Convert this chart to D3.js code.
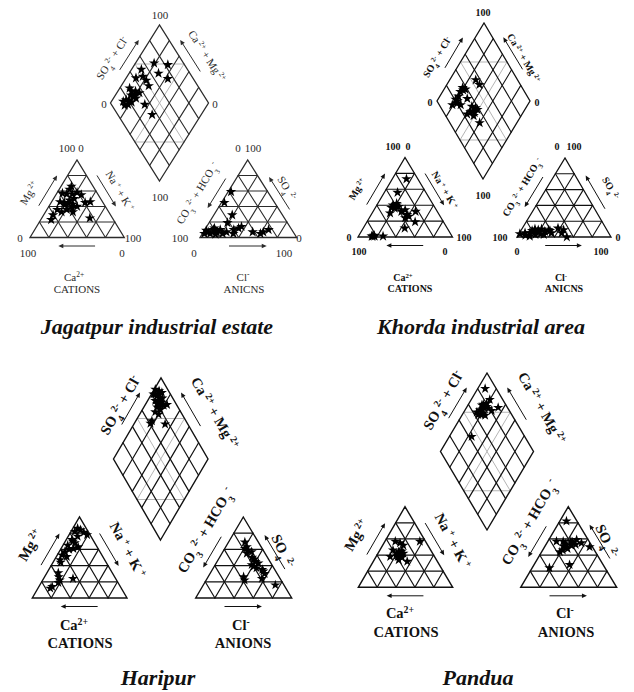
<!DOCTYPE html>
<html>
<head>
<meta charset="utf-8">
<script src="https://cdn.jsdelivr.net/npm/d3@7"></script>
<style>
  body { margin: 0; background: #fff; }
  svg { display: block; }
</style>
</head>
<body>
<svg id="fig" width="634" height="692"></svg>
<script>
// ---- Sample compositions (meq %) ----
// cation triangle: [Mg2+ %, Na+ + K+ %]   (Ca2+ is the remainder)
// anion triangle:  [SO4 2- %, Cl- %]      (CO3 + HCO3 is the remainder)
// diamond:         [SO4 + Cl %, Ca + Mg %]
const jagatpurCations = [[66,11],[62,11],[57,6],[56,11],[56,17],[58,21],[55,27],[46,9],[45,14],[44,19],[43,24],[40,30],[45,36],[46,41],[36,11],[33,17],[36,21],[33,29],[29,10],[23,11],[25,51],[48,18],[50,22],[42,16],[38,26]];
const jagatpurAnions = [[59,3],[45,3],[29,19],[19,19],[9,2],[7,5],[10,9],[7,14],[10,16],[5,2],[5,8],[5,21],[7,24],[10,30],[12,34],[14,36],[7,51],[7,62],[10,66],[5,60],[5,32],[12,9],[8,12],[4,14]];
const jagatpurDiamond = [[83,66],[70,81],[68,70],[74,57],[53,90],[42,90],[51,78],[50,84],[50,72],[29,90],[29,86],[30,80],[18,86],[14,88],[22,79],[29,77],[17,81],[13,84],[34,64],[35,50],[36,77],[27,81],[26,84],[20,83],[33,82]];

const khordaCations = [[73,15],[56,14],[40,17],[42,20],[37,17],[36,21],[38,24],[28,38],[24,38],[26,41],[32,45],[19,51],[11,44],[30,19],[1,17],[1,14],[1,26],[32,30],[1,15],[2,16],[34,33],[40,21]];
const khordaAnions = [[4,1],[5,6],[5,11],[7,16],[9,18],[10,21],[7,26],[9,29],[3,27],[3,18],[1,13],[5,34],[5,45],[0,53],[11,38],[9,45],[8,12],[6,20],[4,23],[8,31],[10,14],[2,8]];
const khordaDiamond = [[55,72],[56,65],[36,81],[38,77],[31,81],[26,80],[21,81],[20,77],[14,81],[23,72],[34,69],[34,59],[37,54],[29,57],[33,52],[38,51],[30,51],[24,59],[32,40],[35,79],[22,78],[32,55]];

const haripurCations = [[82,4],[84,9],[78,19],[81,14],[72,6],[68,11],[65,5],[63,17],[61,13],[57,6],[53,5],[51,11],[47,6],[31,12],[22,18],[19,18],[24,31],[12,13],[14,14],[76,10],[70,8],[60,9],[44,8],[26,15],[86,5]];
const haripurAnions = [[69,17],[61,21],[59,25],[55,26],[57,30],[45,40],[43,44],[41,38],[37,45],[35,52],[30,57],[26,37],[22,40],[24,57],[16,75],[63,22],[50,34],[39,41],[33,54],[48,37]];
const haripurDiamond = [[87,99],[90,94],[85,93],[87,88],[80,92],[86,84],[82,86],[86,80],[90,77],[80,81],[73,85],[75,80],[64,83],[61,83],[76,67],[82,98],[88,92],[84,96],[83,89],[78,86],[85,82],[80,88],[89,86],[92,90]];

const panduaCations = [[57,11],[55,17],[52,22],[57,37],[46,14],[44,21],[40,21],[40,24],[42,27],[37,28],[38,15],[32,36],[34,26],[41,25],[43,23],[39,26],[45,24],[42,20],[38,23]];
const panduaAnions = [[82,7],[57,9],[57,16],[57,24],[59,29],[55,36],[50,23],[46,21],[44,19],[52,27],[50,47],[24,18],[28,37],[54,20],[48,25],[53,31],[56,26],[51,19]];
const panduaDiamond = [[88,92],[86,80],[80,81],[74,85],[69,84],[70,78],[64,83],[79,76],[81,71],[90,66],[64,86],[43,76],[71,75],[75,80],[72,82],[78,79],[67,80],[76,84]];

// ---- Text ----
const siteNames = ["Jagatpur industrial estate", "Khorda industrial area", "Haripur", "Pandua"];
const scaleEnds = ["0", "100"];
const gridSteps = [20, 40, 60, 80];
const LBL = {
  so4cl: [["SO","n"],["4","sub"],["2-","sup"],[" + Cl","n"],["-","sup"]],
  camg:  [["Ca","n"],[" 2+","sup"],[" + Mg","n"],[" 2+","sup"]],
  mg:    [["Mg","n"],[" 2+","sup"]],
  nak:   [["Na","n"],[" +","sup"],[" + K","n"],[" +","sup"]],
  co3:   [["CO","n"],["3","sub"],[" 2-","sup"],[" + HCO","n"],["3","sub"],[" -","sup"]],
  so4:   [["SO","n"],["4","sub"],[" 2-","sup"]],
  ca:    [["Ca","n"],["2+","sup"]],
  cl:    [["Cl","n"],["-","sup"]]
};

const FONT = "'Liberation Serif','Times New Roman',serif";
const svg = d3.select("#fig");
const pct = d3.scaleLinear().domain([0, 100]).range([0, 1]);

// ternary projector: (top %, right %) -> pixel
function triProj(g) {
  return (top, right) => {
    const t = pct(top), r = pct(right);
    return [g.bl[0] + r * (g.br[0] - g.bl[0]) + t * (g.ap[0] - g.bl[0]),
            g.bl[1] + r * (g.br[1] - g.bl[1]) + t * (g.ap[1] - g.bl[1])];
  };
}
// diamond projector: (SO4+Cl %, Ca+Mg %) -> pixel
function diaProj(g) {
  return (a, b) => {
    const u = pct(a), v = pct(b);
    return [g.b[0] + u * (g.r[0] - g.b[0]) + v * (g.l[0] - g.b[0]),
            g.b[1] + u * (g.r[1] - g.b[1]) + v * (g.l[1] - g.b[1])];
  };
}

function edgePt(P, Q, f, off, c) {
  const x = P[0] + f * (Q[0] - P[0]), y = P[1] + f * (Q[1] - P[1]);
  let nx = -(Q[1] - P[1]), ny = Q[0] - P[0];
  const L = Math.hypot(nx, ny); nx /= L; ny /= L;
  if ((x - c[0]) * nx + (y - c[1]) * ny < 0) { nx = -nx; ny = -ny; }
  return [x + off * nx, y + off * ny];
}

function arrow(g, P, Q, f1, f2, off, c, ink, w) {
  const a = edgePt(P, Q, f1, off, c), b = edgePt(P, Q, f2, off, c);
  const dx = b[0] - a[0], dy = b[1] - a[1], L = Math.hypot(dx, dy);
  const ux = dx / L, uy = dy / L, nx = -uy, ny = ux;
  const hl = 5, hw = 2.3;
  g.append("line").attr("x1", a[0]).attr("y1", a[1])
    .attr("x2", b[0] - ux * 3).attr("y2", b[1] - uy * 3)
    .attr("stroke", ink).attr("stroke-width", w);
  g.append("path").attr("fill", ink)
    .attr("d", `M${b[0]},${b[1]}L${b[0] - ux * hl + nx * hw},${b[1] - uy * hl + ny * hw}L${b[0] - ux * hl - nx * hw},${b[1] - uy * hl - ny * hw}Z`);
}

function richText(g, x, y, rot, parts, size, weight, ink) {
  const t = g.append("text")
    .attr("transform", `translate(${x},${y}) rotate(${rot})`)
    .attr("text-anchor", "middle").attr("dy", "0.35em")
    .attr("font-family", FONT).attr("font-size", size)
    .attr("font-weight", weight).attr("fill", ink);
  if (typeof parts === "string") { t.text(parts); return t; }
  parts.forEach(([s, k]) => {
    const ts = t.append("tspan").text(s);
    if (k === "sup") ts.attr("baseline-shift", "super").attr("font-size", size * 0.68);
    if (k === "sub") ts.attr("baseline-shift", "sub").attr("font-size", size * 0.68);
  });
  return t;
}

const E0 = scaleEnds[0], E1 = scaleEnds[1];

const panels = [
  {
    caption: siteNames[0], cap: [157, 334],
    dia: { t: [159.5, 26], l: [110.5, 103], r: [208.5, 103], b: [159.5, 181] },
    cat: { bl: [30, 237.5], br: [124.3, 237.5], ap: [77, 160] },
    an:  { bl: [200, 237.5], br: [296.7, 237.5], ap: [247.7, 160] },
    cations: jagatpurCations, anions: jagatpurAnions, diamond: jagatpurDiamond,
    size: 11, weight: "normal", ink: "#2b2b2b", star: 34, lw: 1.1,
    text: [
      [160, 15, 0, E1], [104, 104, 0, E0], [215, 104, 0, E0], [160, 197, 0, E1],
      [67, 148, 0, E1], [81, 148, 0, E0], [238, 148, 0, E0], [253, 148, 0, E1],
      [20, 238, 0, E0], [133, 238, 0, E1], [180, 238, 0, E1], [299, 238, 0, E0],
      [28, 253, 0, E1], [122, 253, 0, E0], [194, 253, 0, E0], [284, 253, 0, E1],
      [112, 58, -57, LBL.so4cl], [207, 56, 57, LBL.camg], [29, 193, -59, LBL.mg],
      [120, 191, 59, LBL.nak], [197, 193, -59, LBL.co3], [287, 188, 59, LBL.so4],
      [74, 277, 0, LBL.ca], [77, 289, 0, "CATIONS"], [243, 277, 0, LBL.cl], [244, 289, 0, "ANICNS"]
    ]
  },
  {
    caption: siteNames[1], cap: [481, 334],
    dia: { t: [483, 23], l: [437, 101], r: [530, 101], b: [483, 179] },
    cat: { bl: [358, 237], br: [452.5, 237], ap: [405, 157.5] },
    an:  { bl: [517, 237], br: [611, 237], ap: [565, 158] },
    cations: khordaCations, anions: khordaAnions, diamond: khordaDiamond,
    size: 10, weight: "bold", ink: "#111", star: 34, lw: 1.1,
    text: [
      [483, 12, 0, E1], [430, 102, 0, E0], [537, 102, 0, E0], [483, 195, 0, E1],
      [393, 146, 0, E1], [408, 146, 0, E0], [557, 146, 0, E0], [574, 146, 0, E1],
      [349, 237, 0, E0], [464, 237, 0, E1], [500, 237, 0, E1], [618, 237, 0, E0],
      [359, 251, 0, E1], [445, 251, 0, E0], [517, 251, 0, E0], [601, 251, 0, E1],
      [437, 57, -59, LBL.so4cl], [524, 58, 59, LBL.camg], [357, 189, -59, LBL.mg],
      [445, 190, 59, LBL.nak], [522, 187, -59, LBL.co3], [611, 188, 59, LBL.so4],
      [403, 277, 0, LBL.ca], [410, 288, 0, "CATIONS"], [561, 277, 0, LBL.cl], [564, 288, 0, "ANICNS"]
    ]
  },
  {
    caption: siteNames[2], cap: [158, 685],
    dia: { t: [160.5, 377], l: [113.5, 459], r: [208, 459], b: [160.5, 540] },
    cat: { bl: [32.3, 598], br: [127, 598], ap: [79.5, 517] },
    an:  { bl: [195.7, 598], br: [291.7, 598], ap: [243.3, 517] },
    cations: haripurCations, anions: haripurAnions, diamond: haripurDiamond,
    size: 14.5, weight: "bold", ink: "#111", star: 32, lw: 1.2,
    text: [
      [120, 405, -60, LBL.so4cl], [215, 413, 60, LBL.camg], [30, 545, -60, LBL.mg],
      [128, 550, 62, LBL.nak], [205, 530, -60, LBL.co3], [283, 551, 65, LBL.so4],
      [74, 625, 0, LBL.ca], [80, 643, 0, "CATIONS"], [241, 625, 0, LBL.cl], [243, 643, 0, "ANIONS"]
    ]
  },
  {
    caption: siteNames[3], cap: [478, 685],
    dia: { t: [487, 373], l: [440.5, 451.5], r: [533.5, 451.5], b: [487, 530] },
    cat: { bl: [358.3, 587.3], br: [452.7, 587.3], ap: [405, 506.7] },
    an:  { bl: [520.7, 587.3], br: [616.7, 587.3], ap: [568.3, 506.7] },
    cations: panduaCations, anions: panduaAnions, diamond: panduaDiamond,
    size: 14.5, weight: "bold", ink: "#111", star: 32, lw: 1.2,
    text: [
      [443, 400, -60, LBL.so4cl], [542, 408, 60, LBL.camg], [356, 535, -60, LBL.mg],
      [453, 541, 62, LBL.nak], [529, 522, -60, LBL.co3], [607, 541, 65, LBL.so4],
      [400, 613, 0, LBL.ca], [406, 632, 0, "CATIONS"], [565, 613, 0, LBL.cl], [566, 632, 0, "ANIONS"]
    ]
  }
];

const star = d3.symbol().type(d3.symbolStar);

panels.forEach(p => {
  const g = svg.append("g");
  const ink = p.ink;
  const seg = (a, b, col, w) => g.append("line")
    .attr("x1", a[0]).attr("y1", a[1]).attr("x2", b[0]).attr("y2", b[1])
    .attr("stroke", col).attr("stroke-width", w).attr("stroke-linecap", "round");

  // ---- diamond ----
  const D = diaProj(p.dia);
  // classification lines (grey)
  [[[50,100],[100,50]], [[50,0],[0,50]], [[50,0],[50,100]], [[0,50],[100,50]]]
    .forEach(([a, b]) => seg(D(...a), D(...b), "#b5b5b5", 1));
  gridSteps.forEach(s => {
    seg(D(s, 0), D(s, 100), ink, p.lw);
    seg(D(0, s), D(100, s), ink, p.lw);
  });
  g.append("path").attr("fill", "none").attr("stroke", ink).attr("stroke-width", p.lw + 0.2)
    .attr("stroke-linejoin", "miter")
    .attr("d", d3.line()([D(0,0), D(100,0), D(100,100), D(0,100)]) + "Z");

  // ---- triangles ----
  [[p.cat, p.cations], [p.an, p.anions]].forEach(([geo, pts]) => {
    const T = triProj(geo);
    gridSteps.forEach(s => {
      seg(T(s, 0), T(s, 100 - s), ink, p.lw);
      seg(T(0, s), T(100 - s, s), ink, p.lw);
      seg(T(0, 100 - s), T(100 - s, 0), ink, p.lw);
    });
    g.append("path").attr("fill", "none").attr("stroke", ink).attr("stroke-width", p.lw + 0.2)
      .attr("d", d3.line()([T(0,0), T(0,100), T(100,0)]) + "Z");
    g.append("g").selectAll("path").data(pts).join("path")
      .attr("d", star.size(p.star)())
      .attr("transform", d => { const q = T(d[0], d[1]); return `translate(${q[0]},${q[1]})`; })
      .attr("fill", "#000");
  });

  g.append("g").selectAll("path").data(p.diamond).join("path")
    .attr("d", star.size(p.star)())
    .attr("transform", d => { const q = D(d[0], d[1]); return `translate(${q[0]},${q[1]})`; })
    .attr("fill", "#000");

  // ---- direction arrows ----
  const dc = p.dia.t.map((v, i) => (v + p.dia.b[i]) / 2);
  arrow(g, p.dia.l, p.dia.t, 0.36, 0.75, 10, dc, ink, 1);
  arrow(g, p.dia.r, p.dia.t, 0.34, 0.75, 10, dc, ink, 1);
  const cc = [(p.cat.bl[0] + p.cat.br[0] + p.cat.ap[0]) / 3, (p.cat.bl[1] * 2 + p.cat.ap[1]) / 3];
  arrow(g, p.cat.bl, p.cat.ap, 0.35, 0.74, 9, cc, ink, 1);
  arrow(g, p.cat.ap, p.cat.br, 0.26, 0.66, 9, cc, ink, 1);
  arrow(g, p.cat.br, p.cat.bl, 0.31, 0.70, 8.5, cc, ink, 1);
  const ac = [(p.an.bl[0] + p.an.br[0] + p.an.ap[0]) / 3, (p.an.bl[1] * 2 + p.an.ap[1]) / 3];
  arrow(g, p.an.ap, p.an.bl, 0.3, 0.68, 9, ac, ink, 1);
  arrow(g, p.an.br, p.an.ap, 0.3, 0.72, 9, ac, ink, 1);
  arrow(g, p.an.bl, p.an.br, 0.3, 0.69, 8.5, ac, ink, 1);

  // ---- labels ----
  p.text.forEach(([x, y, r, parts]) => richText(g, x, y, r, parts, p.size, p.weight, ink));

  g.append("text").attr("x", p.cap[0]).attr("y", p.cap[1])
    .attr("text-anchor", "middle").attr("font-family", FONT)
    .attr("font-size", 22).attr("font-weight", "bold").attr("font-style", "italic")
    .attr("fill", "#111").text(p.caption);
});
</script>
</body>
</html>
